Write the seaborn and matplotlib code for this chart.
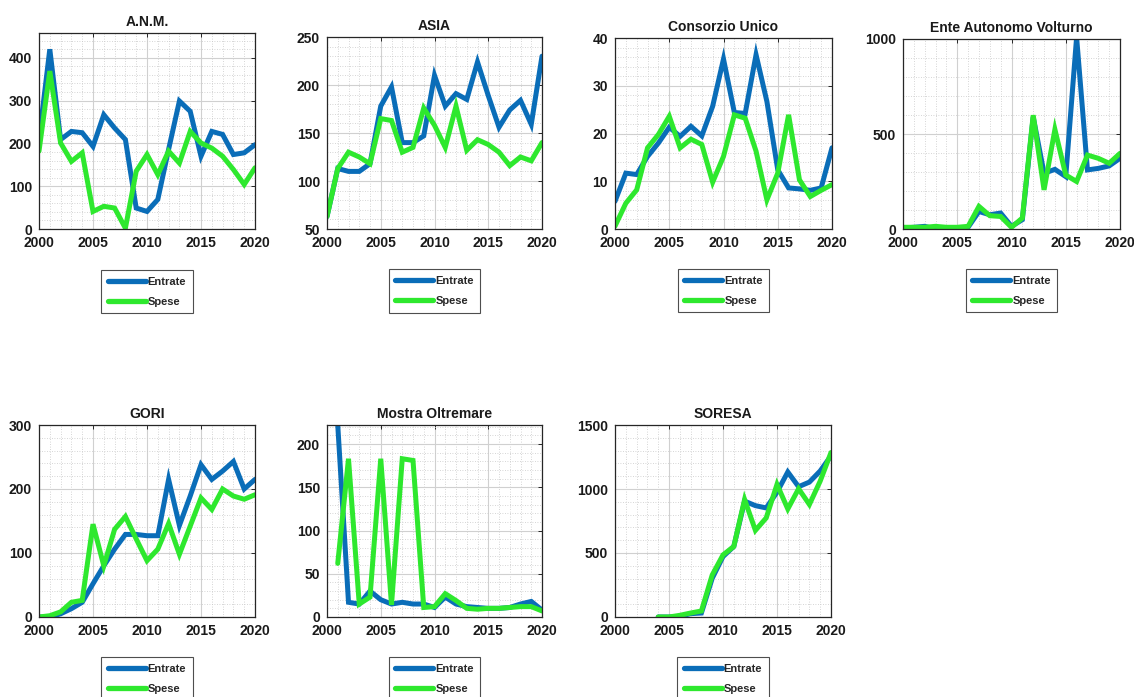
import matplotlib
matplotlib.use("Agg")
import matplotlib.pyplot as plt
import seaborn as sns
import pandas as pd
from matplotlib.ticker import MultipleLocator, AutoMinorLocator

# ---- data (in millions) ----
years = list(range(2000, 2021))
years_mostra = list(range(2001, 2021))
years_soresa = list(range(2004, 2021))

anm_entrate = [209, 420, 209, 228, 225, 193, 267, 236, 209, 49, 41, 69, 186, 299, 275, 170, 228, 221, 174, 178, 197]
anm_spese = [182, 369, 201, 158, 178, 41, 53, 49, 2, 135, 174, 127, 182, 154, 228, 201, 189, 170, 139, 104, 143]

asia_entrate = [63, 113, 110, 110, 118, 178, 198, 140, 140, 147, 210, 178, 191, 185, 224, 189, 156, 174, 184, 159, 230]
asia_spese = [63, 113, 130, 125, 118, 165, 163, 130, 135, 176, 158, 135, 178, 132, 143, 138, 130, 116, 125, 121, 140]

consorzio_entrate = [5.8, 11.7, 11.4, 15.2, 18.0, 21.3, 19.4, 21.5, 19.5, 25.7, 35.6, 24.4, 24.2, 36.5, 26.7, 12.4, 8.6, 8.4, 8.1, 8.6, 17.0]
consorzio_spese = [0.6, 5.4, 8.2, 17.0, 19.8, 23.6, 17.0, 18.8, 17.7, 9.8, 15.2, 23.9, 23.2, 16.3, 6.1, 11.7, 23.9, 10.3, 6.8, 8.1, 9.3]

eav_entrate = [5, 9, 14, 0, 5, 5, 9, 92, 75, 84, 14, 49, 590, 293, 314, 276, 1009, 311, 319, 332, 372]
eav_spese = [9, 9, 9, 14, 9, 9, 14, 119, 70, 66, 9, 58, 599, 206, 524, 284, 250, 389, 372, 346, 398]

gori_entrate = [0, 0, 5, 13, 23, 52, 80, 106, 129, 129, 127, 127, 215, 143, 189, 238, 215, 228, 243, 200, 215]
gori_spese = [0, 2, 8, 23, 26, 145, 80, 137, 157, 122, 88, 106, 146, 98, 142, 186, 168, 200, 189, 184, 191]

mostra_entrate = [222, 17, 15, 30, 20, 15, 17, 15, 15, 11, 23, 15, 12, 11, 10, 10, 11, 15, 18, 8]
mostra_spese = [62, 183, 15, 23, 183, 14, 183, 181, 11, 12, 27, 19, 10, 9, 10, 10, 11, 12, 12, 7]

soresa_entrate = [0, 0, 5, 26, 31, 302, 472, 551, 905, 870, 852, 975, 1133, 1018, 1054, 1141, 1259]
soresa_spese = [0, 0, 13, 31, 47, 328, 485, 551, 918, 677, 774, 1036, 844, 1002, 879, 1062, 1285]

titles = ["A.N.M.", "ASIA", "Consorzio Unico", "Ente Autonomo Volturno",
          "GORI", "Mostra Oltremare", "SORESA"]
series_labels = ["Entrate", "Spese"]

panels = [
    (titles[0], years, anm_entrate, anm_spese, (0, 458), 100),
    (titles[1], years, asia_entrate, asia_spese, (50, 250), 50),
    (titles[2], years, consorzio_entrate, consorzio_spese, (0, 40), 10),
    (titles[3], years, eav_entrate, eav_spese, (0, 1000), 500),
    (titles[4], years, gori_entrate, gori_spese, (0, 300), 100),
    (titles[5], years_mostra, mostra_entrate, mostra_spese, (0, 222), 50),
    (titles[6], years_soresa, soresa_entrate, soresa_spese, (0, 1500), 500),
]

# ---- style ----
sns.set_theme(style="white")
plt.rcParams["font.family"] = ["Liberation Sans", "DejaVu Sans"]
plt.rcParams["font.weight"] = "bold"

BLUE = "#0a6db8"
GREEN = "#2ee82e"
SPINE = "#262626"

W, H = 1134, 697
fig = plt.figure(figsize=(W / 100, H / 100), dpi=100)
fig.patch.set_facecolor("white")

# axes boxes in pixels: (left, top, right, bottom)
boxes = [
    (39, 33, 255, 229),
    (327, 37, 542, 229),
    (615, 38, 832, 229),
    (903, 39, 1120, 229),
    (39, 425, 255, 617),
    (327, 425, 542, 617),
    (615, 425, 831, 617),
]

for (title, xs, entrate, spese, ylim, ystep), (l, t, r, b) in zip(panels, boxes):
    ax = fig.add_axes([l / W, 1 - b / H, (r - l) / W, (b - t) / H])
    df = pd.DataFrame({
        "Anno": list(xs) * 2,
        "Valore": list(entrate) + list(spese),
        "Voce": [series_labels[0]] * len(xs) + [series_labels[1]] * len(xs),
    })
    sns.lineplot(data=df, x="Anno", y="Valore", hue="Voce",
                 palette={series_labels[0]: BLUE, series_labels[1]: GREEN},
                 linewidth=3.6, ax=ax, legend=True)
    for line in ax.get_lines():
        line.set_solid_joinstyle("miter")
        line.set_clip_on(True)

    ax.set_xlim(2000, 2020)
    ax.set_ylim(*ylim)
    ax.xaxis.set_major_locator(MultipleLocator(5))
    ax.xaxis.set_minor_locator(AutoMinorLocator(5))
    ax.yaxis.set_major_locator(MultipleLocator(ystep))
    ax.yaxis.set_minor_locator(AutoMinorLocator(5))
    ax.set_xlabel("")
    ax.set_ylabel("")
    ax.set_title(title, fontsize=10, fontweight="bold", pad=5, color="#1a1a1a")

    ax.grid(True, which="major", color="#d0d0d0", linewidth=0.8, linestyle="-")
    ax.grid(True, which="minor", color="#c8c8c8", linewidth=0.6, linestyle=(0, (1, 2)))
    ax.set_axisbelow(True)
    for sp in ax.spines.values():
        sp.set_color(SPINE)
        sp.set_linewidth(0.9)
    ax.tick_params(which="both", direction="in", top=True, right=True,
                   colors=SPINE, labelcolor="#1a1a1a")
    ax.tick_params(which="major", length=3, width=0.7, labelsize=10, pad=5)
    ax.tick_params(which="minor", length=0)
    for lab in ax.get_xticklabels() + ax.get_yticklabels():
        lab.set_fontweight("bold")

    handles, labels = ax.get_legend_handles_labels()
    leg = ax.legend(handles, labels, loc="upper center", bbox_to_anchor=(0.5, -0.21),
                    frameon=True, fancybox=False, fontsize=8, handlelength=3.4,
                    handletextpad=0.2, borderpad=0.6, labelspacing=0.9,
                    borderaxespad=0)
    leg.get_frame().set_edgecolor("#222222")
    leg.get_frame().set_linewidth(0.8)
    for txt in leg.get_texts():
        txt.set_fontweight("bold")
    for lh in leg.get_lines():
        lh.set_linewidth(3.8)

fig.savefig("out.png", dpi=100, facecolor="white")
